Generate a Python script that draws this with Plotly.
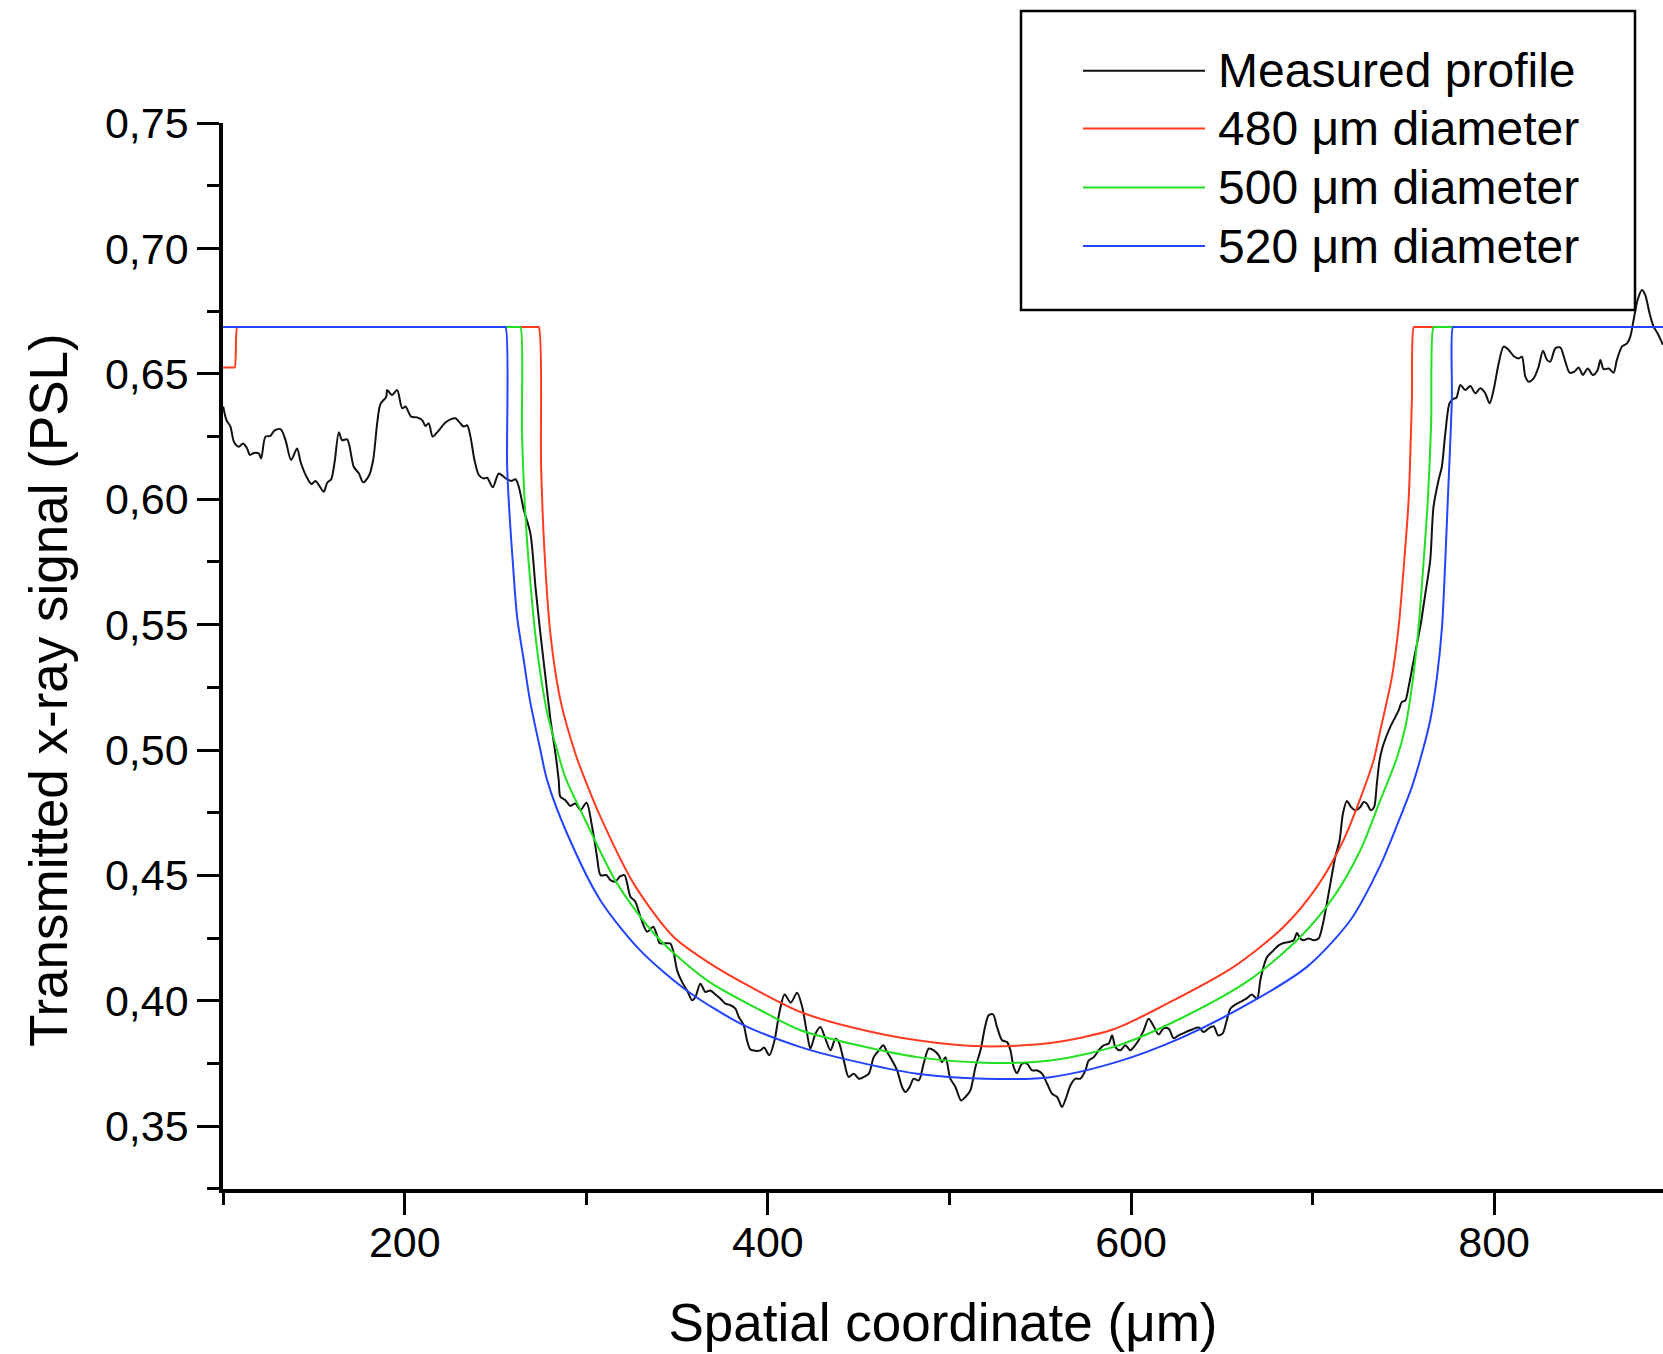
import plotly.graph_objects as go

# ---------------- data ----------------
measured_x = [
    100.0, 101.8, 104.0, 105.9, 108.6, 111.0, 113.2, 114.7, 117.0, 119.6, 120.9, 123.3, 126.0, 128.2,
    131.6, 134.3, 137.4, 140.7, 142.6, 145.9, 148.6, 150.8, 152.7, 155.4, 157.3, 159.5, 161.4, 163.7,
    165.5, 168.3, 171.9, 174.7, 177.1, 180.2, 182.6, 184.8, 186.6, 189.8, 190.3, 193.0, 195.8, 198.6,
    200.4, 203.5, 206.8, 209.6, 211.4, 213.2, 215.4, 218.2, 222.4, 225.2, 227.9, 229.8, 232.5, 234.4,
    236.2, 238.4, 240.8, 243.5, 245.4, 248.5, 251.8, 255.5, 258.6, 261.0, 262.8, 265.6, 269.2, 272.0,
    274.7, 277.5, 280.3, 283.0, 284.8, 285.7, 288.5, 291.2, 294.0, 296.8, 300.1, 303.2, 305.9, 307.8,
    311.1, 313.3, 316.0, 318.4, 321.0, 324.3, 327.0, 329.8, 333.5, 336.8, 338.9, 340.4, 343.6, 346.3,
    348.2, 350.0, 352.7, 355.5, 358.3, 360.1, 362.8, 365.6, 368.3, 371.1, 373.9, 376.6, 379.4, 382.1,
    384.0, 386.7, 388.5, 390.4, 393.1, 395.9, 397.9, 400.8, 403.6, 406.4, 409.2, 412.6, 416.1, 418.9,
    421.6, 423.4, 426.2, 428.9, 431.7, 434.5, 437.2, 439.0, 441.8, 444.5, 447.3, 450.1, 452.8, 455.6,
    458.3, 461.1, 463.5, 465.7, 468.4, 471.2, 473.9, 475.8, 478.1, 480.3, 483.1, 485.8, 488.6, 491.4,
    494.1, 495.9, 497.8, 500.5, 503.3, 506.4, 508.8, 511.5, 514.3, 517.1, 519.8, 521.6, 524.0, 526.2,
    529.0, 531.7, 533.6, 535.4, 537.2, 540.0, 542.7, 545.5, 548.3, 551.0, 553.8, 556.5, 559.3, 562.0,
    564.4, 566.6, 569.4, 572.1, 574.9, 576.7, 579.5, 582.2, 584.9, 587.7, 589.6, 591.4, 594.1, 596.9,
    599.6, 601.5, 604.2, 607.0, 609.7, 612.5, 615.2, 618.0, 620.8, 623.5, 626.2, 629.0, 633.6, 637.3,
    640.0, 642.8, 645.5, 648.0, 650.5, 652.5, 654.7, 657.5, 660.2, 663.5, 666.5, 669.4, 671.2, 673.0,
    674.9, 678.5, 681.3, 684.1, 686.8, 689.6, 691.4, 693.2, 695.1, 697.8, 700.6, 703.3, 705.7, 707.5,
    709.8, 712.5, 714.9, 716.7, 718.9, 721.1, 723.5, 726.3, 728.1, 729.9, 732.1, 733.9, 735.4, 736.9,
    738.5, 740.0, 742.8, 745.6, 747.4, 749.2, 751.1, 752.9, 755.7, 759.3, 762.1, 764.8, 766.6, 769.4,
    771.2, 773.1, 775.4, 777.3, 779.2, 781.4, 784.1, 786.9, 789.6, 792.4, 795.1, 797.5, 799.7, 802.5,
    805.2, 808.0, 810.7, 813.5, 815.3, 817.2, 819.0, 821.8, 824.5, 826.9, 829.1, 830.9, 833.7, 836.4,
    839.2, 841.6, 844.2, 846.5, 848.9, 851.5, 854.4, 857.0, 858.5, 860.3, 863.1, 865.8, 867.6, 870.4,
    873.2, 875.0, 876.8, 879.0, 881.4, 883.2, 885.6, 887.8, 890.0, 893.0,
]
measured_y = [
    0.6370, 0.6316, 0.6290, 0.6230, 0.6210, 0.6223, 0.6203, 0.6177, 0.6185, 0.6183, 0.6163, 0.6250, 0.6253, 0.6274,
    0.6280, 0.6237, 0.6157, 0.6203, 0.6150, 0.6090, 0.6061, 0.6073, 0.6057, 0.6030, 0.6066, 0.6080, 0.6150, 0.6267,
    0.6236, 0.6239, 0.6130, 0.6104, 0.6068, 0.6093, 0.6157, 0.6303, 0.6380, 0.6409, 0.6436, 0.6416, 0.6436, 0.6363,
    0.6370, 0.6330, 0.6327, 0.6316, 0.6292, 0.6303, 0.6250, 0.6270, 0.6306, 0.6319, 0.6323, 0.6310, 0.6290, 0.6295,
    0.6250, 0.6157, 0.6097, 0.6083, 0.6086, 0.6048, 0.6103, 0.6084, 0.6073, 0.6080, 0.6050, 0.5957, 0.5864, 0.5651,
    0.5465, 0.5292, 0.5119, 0.4986, 0.4880, 0.4814, 0.4800, 0.4777, 0.4787, 0.4761, 0.4790, 0.4694, 0.4574, 0.4501,
    0.4501, 0.4481, 0.4475, 0.4495, 0.4501, 0.4415, 0.4395, 0.4335, 0.4275, 0.4295, 0.4262, 0.4229, 0.4229, 0.4228,
    0.4188, 0.4121, 0.4075, 0.4041, 0.4002, 0.4015, 0.4068, 0.4035, 0.4041, 0.4025, 0.4008, 0.3988, 0.3982, 0.3968,
    0.3935, 0.3902, 0.3842, 0.3805, 0.3800, 0.3802, 0.3813, 0.3782, 0.3840, 0.3955, 0.4025, 0.3992, 0.4032, 0.3975,
    0.3868, 0.3809, 0.3868, 0.3895, 0.3848, 0.3802, 0.3848, 0.3835, 0.3762, 0.3696, 0.3709, 0.3689, 0.3696, 0.3709,
    0.3775, 0.3802, 0.3822, 0.3795, 0.3762, 0.3722, 0.3656, 0.3636, 0.3656, 0.3689, 0.3682, 0.3749, 0.3809, 0.3802,
    0.3782, 0.3755, 0.3775, 0.3689, 0.3656, 0.3602, 0.3616, 0.3642, 0.3735, 0.3802, 0.3902, 0.3942, 0.3946, 0.3895,
    0.3842, 0.3835, 0.3802, 0.3735, 0.3711, 0.3749, 0.3749, 0.3722, 0.3722, 0.3709, 0.3669, 0.3629, 0.3616, 0.3576,
    0.3616, 0.3662, 0.3689, 0.3689, 0.3722, 0.3762, 0.3775, 0.3802, 0.3822, 0.3829, 0.3862, 0.3815, 0.3802, 0.3822,
    0.3802, 0.3815, 0.3842, 0.3882, 0.3928, 0.3898, 0.3865, 0.3890, 0.3888, 0.3850, 0.3862, 0.3871, 0.3885, 0.3893,
    0.3875, 0.3890, 0.3898, 0.3862, 0.3870, 0.3915, 0.3968, 0.3985, 0.3995, 0.4008, 0.4025, 0.4008, 0.4081, 0.4135,
    0.4174, 0.4201, 0.4221, 0.4230, 0.4234, 0.4241, 0.4270, 0.4248, 0.4241, 0.4248, 0.4241, 0.4248, 0.4307, 0.4374,
    0.4467, 0.4573, 0.4640, 0.4746, 0.4797, 0.4773, 0.4760, 0.4773, 0.4793, 0.4786, 0.4760, 0.4773, 0.4866, 0.4959,
    0.5010, 0.5042, 0.5092, 0.5132, 0.5158, 0.5192, 0.5198, 0.5252, 0.5358, 0.5491, 0.5624, 0.5757, 0.5970, 0.6077,
    0.6130, 0.6263, 0.6383, 0.6400, 0.6405, 0.6456, 0.6436, 0.6452, 0.6423, 0.6443, 0.6423, 0.6383, 0.6436, 0.6542,
    0.6609, 0.6596, 0.6572, 0.6562, 0.6569, 0.6489, 0.6469, 0.6483, 0.6529, 0.6593, 0.6556, 0.6549, 0.6602, 0.6606,
    0.6549, 0.6505, 0.6509, 0.6526, 0.6496, 0.6522, 0.6496, 0.6516, 0.6556, 0.6519, 0.6522, 0.6505, 0.6556, 0.6609,
    0.6622, 0.6649, 0.6715, 0.6795, 0.6835, 0.6815, 0.6742, 0.6689, 0.6662, 0.6616,
]

d480_x = [100.0, 105.8, 106.4, 107.7, 108.6, 272.6, 273.8, 275.1, 276.9, 280.2, 285.7, 294.0, 298.6, 307.8,
          326.1, 348.1, 370.0, 390.5, 418.0, 445.5, 482.2, 518.8, 555.6, 590.0, 619.8, 656.5, 684.0, 702.4,
          717.0, 727.0, 733.6, 737.3, 743.7, 747.4, 750.5, 752.9, 754.7, 755.8, 757.0, 893.0]
d480_y = [0.6526, 0.6526, 0.6526, 0.6687, 0.6687, 0.6687, 0.6687, 0.6130, 0.5800, 0.5465, 0.5200, 0.4985, 0.4895,
          0.4733, 0.4467, 0.4254, 0.4140, 0.4055, 0.3955, 0.3895, 0.3842, 0.3818, 0.3831, 0.3885, 0.3988, 0.4135,
          0.4294, 0.4454, 0.4640, 0.4820, 0.4959, 0.5079, 0.5291, 0.5491, 0.5757, 0.5997, 0.6396, 0.6687, 0.6687,
          0.6687]

d500_x = [100.0, 262.5, 263.7, 264.6, 266.5, 269.2, 272.9, 278.4, 283.9, 288.5, 298.6, 317.0, 339.0, 366.5,
          395.9, 418.0, 445.5, 482.2, 518.8, 555.6, 592.3, 629.0, 665.7, 693.2, 711.6, 726.3, 737.3,
          741.0, 746.5, 751.1, 754.7, 758.4, 761.2, 763.5, 765.3, 766.6, 767.8, 893.0]
d500_y = [0.6687, 0.6687, 0.6687, 0.6260, 0.5930, 0.5666, 0.5400, 0.5150, 0.5000, 0.4890, 0.4733, 0.4467, 0.4254,
          0.4081, 0.3962, 0.3882, 0.3829, 0.3775, 0.3753, 0.3762, 0.3820, 0.3935, 0.4085, 0.4254, 0.4414, 0.4600,
          0.4800, 0.4866, 0.4970, 0.5092, 0.5252, 0.5491, 0.5757, 0.6000, 0.6300, 0.6687, 0.6687, 0.6687]

d520_x = [100.0, 254.3, 255.5, 256.4, 257.8, 259.7, 261.9, 265.5, 268.9, 274.7, 278.4, 289.4, 307.8, 329.8,
          355.5, 384.9, 418.0, 445.5, 482.2, 518.8, 555.6, 592.3, 627.0, 665.7, 696.9, 720.8, 737.3,
          746.5, 754.7, 760.2, 764.8, 768.5, 771.3, 773.1, 774.5, 776.7, 777.3, 778.5, 893.0]
d520_y = [0.6687, 0.6687, 0.6687, 0.6130, 0.5930, 0.5730, 0.5530, 0.5360, 0.5200, 0.5000, 0.4880, 0.4667, 0.4400,
          0.4200, 0.4040, 0.3909, 0.3815, 0.3762, 0.3709, 0.3689, 0.3695, 0.3756, 0.3850, 0.3992, 0.4135, 0.4321,
          0.4540, 0.4700, 0.4853, 0.4986, 0.5119, 0.5291, 0.5491, 0.5757, 0.6000, 0.6396, 0.6687, 0.6687, 0.6687]

series_names = ["Measured profile", "480 μm diameter", "500 μm diameter", "520 μm diameter"]
series_colors = ["#111111", "#ff3b22", "#22e022", "#2244ff"]
series_x = [measured_x, d480_x, d500_x, d520_x]
series_y = [measured_y, d480_y, d500_y, d520_y]

x_range = [99.9, 893.0]
y_range = [0.3249, 0.7501]
y_major = [0.35, 0.40, 0.45, 0.50, 0.55, 0.60, 0.65, 0.70, 0.75]
x_major = [200, 400, 600, 800]

x_title = "Spatial coordinate (μm)"
y_title = "Transmitted x-ray signal (PSL)"

# ---------------- layout geometry ----------------
W, H = 1663, 1354
ML, MR, MT, MB = 223, 0, 123, 165
FONT = "Liberation Sans, Arial, Helvetica, sans-serif"


def paper_x(px):
    return (px - ML) / (W - ML - MR)


def paper_y(py):
    return (H - MB - py) / (H - MT - MB)


fig = go.Figure()
for xs, ys, name, color in zip(series_x, series_y, series_names, series_colors):
    fig.add_trace(go.Scatter(x=xs, y=ys, mode="lines", name=name,
                             line=dict(color=color, width=2, shape="spline", smoothing=0.8),
                             showlegend=False))

axis_common = dict(showline=True, linecolor="black", linewidth=3.5, mirror=False,
                   showgrid=False, zeroline=False, ticks="outside", ticklen=22,
                   tickwidth=3, tickcolor="black",
                   tickfont=dict(family=FONT, size=43, color="black"))

fig.update_xaxes(range=x_range, tickmode="array", tickvals=x_major,
                 ticktext=[str(v) for v in x_major], ticklabelstandoff=-9,
                 minor=dict(tick0=100, dtick=200, ticks="outside", ticklen=12,
                            tickwidth=3, tickcolor="black"),
                 title=dict(text=x_title,
                            font=dict(family=FONT, size=53, color="black"), standoff=40),
                 **axis_common)
fig.update_yaxes(range=y_range, tickmode="array", tickvals=y_major,
                 ticktext=[f"{v:.2f}".replace(".", ",") for v in y_major], ticklabelstandoff=0,
                 minor=dict(tick0=0.325, dtick=0.05, ticks="outside", ticklen=12,
                            tickwidth=3, tickcolor="black"),
                 **axis_common)

# ---------------- legend (box, sample lines, labels) and y-axis title ----------------
shapes = [dict(type="rect", xref="paper", yref="paper",
               x0=paper_x(1021), x1=paper_x(1635), y0=paper_y(310), y1=paper_y(11),
               line=dict(color="black", width=2.5), fillcolor="rgba(0,0,0,0)")]
annotations = []
row_y = [70.7, 128.5, 187.5, 246.0]
for name, color, ry in zip(series_names, series_colors, row_y):
    shapes.append(dict(type="line", xref="paper", yref="paper",
                       x0=paper_x(1083), x1=paper_x(1205), y0=paper_y(ry), y1=paper_y(ry),
                       line=dict(color=color, width=2)))
    annotations.append(dict(xref="paper", yref="paper", x=paper_x(1216), y=paper_y(ry),
                            xanchor="left", yanchor="middle", text=name, showarrow=False,
                            font=dict(family=FONT, size=48, color="black")))

# y-axis title placed like in the reference (slightly below the axis centre)
annotations.append(dict(xref="paper", yref="paper", x=paper_x(48), y=paper_y(690),
                        xanchor="center", yanchor="middle", textangle=-90, text=y_title,
                        showarrow=False, font=dict(family=FONT, size=53, color="black")))

fig.update_layout(width=W, height=H, autosize=False,
                  margin=dict(l=ML, r=MR, t=MT, b=MB, pad=0),
                  paper_bgcolor="white", plot_bgcolor="white",
                  shapes=shapes, annotations=annotations, showlegend=False,
                  font=dict(family=FONT, color="black"))

fig.write_html("out.html")
